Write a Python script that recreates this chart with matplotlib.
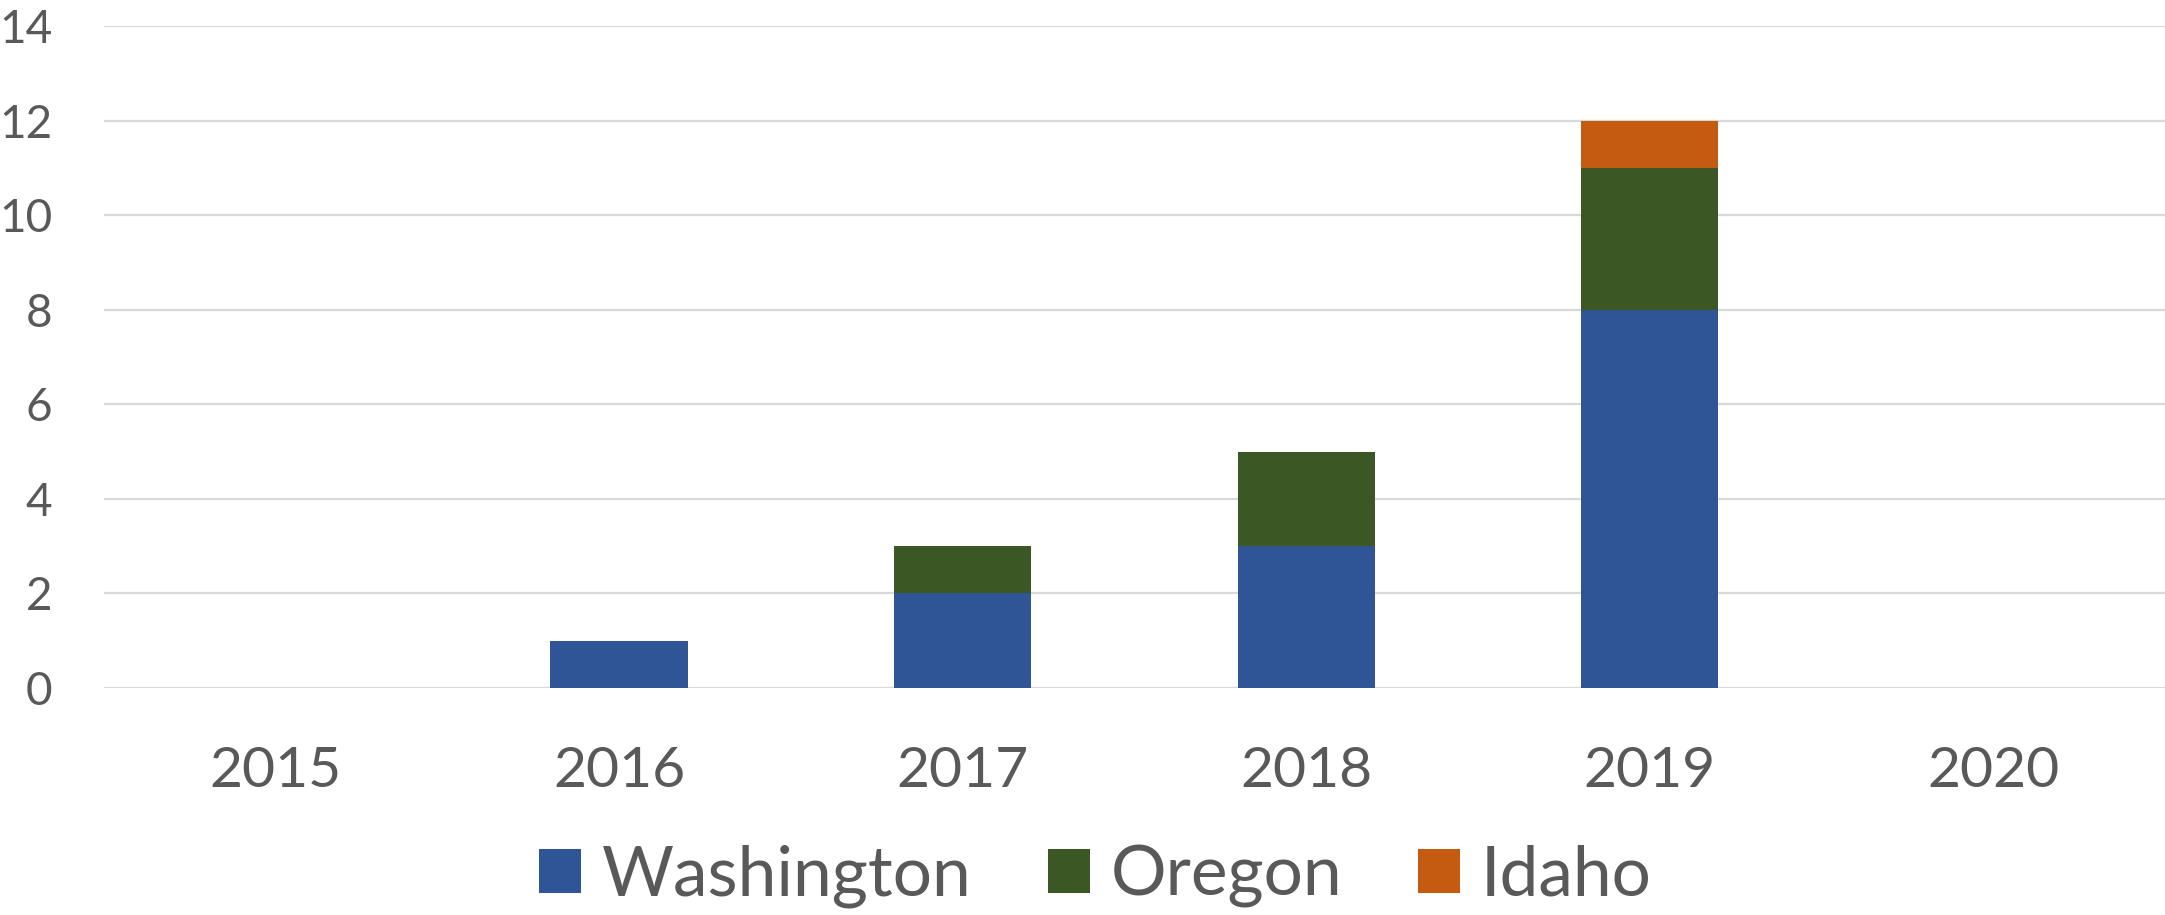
import matplotlib.pyplot as plt
import numpy as np

years = ['2015', '2016', '2017', '2018', '2019', '2020']
washington = [0, 1, 2, 3, 8, 0]
oregon = [0, 0, 1, 2, 3, 0]
idaho = [0, 0, 0, 0, 1, 0]

plt.rcParams['font.family'] = ['Lato', 'DejaVu Sans']
txt = '#595959'

fig = plt.figure(figsize=(21.65, 9.15), dpi=100)
ax = fig.add_axes([0.048, 0.248, 0.952, 0.7236])

x = np.arange(len(years))
w = 0.4
ax.bar(x, washington, w, color='#2F5597', label='Washington', zorder=3)
ax.bar(x, oregon, w, bottom=washington, color='#3A5724', label='Oregon', zorder=3)
bottom2 = [a + b for a, b in zip(washington, oregon)]
ax.bar(x, idaho, w, bottom=bottom2, color='#C55A11', label='Idaho', zorder=3)

ax.set_xlim(-0.5, len(years) - 0.5)
ax.set_ylim(0, 14)
ax.set_yticks(range(0, 15, 2))
ax.set_xticks(x)
ax.set_xticklabels(years)
ax.yaxis.grid(True, color='#D9D9D9', linewidth=1.6, zorder=0)
for s in ax.spines.values():
    s.set_visible(False)
ax.tick_params(axis='y', length=0, pad=37, labelsize=33, labelcolor=txt)
ax.tick_params(axis='x', length=0, pad=42, labelsize=41, labelcolor=txt)

leg = fig.legend(loc='center', bbox_to_anchor=(0.506, 0.042), ncol=3, frameon=False,
                 fontsize=50, handlelength=0.6, handleheight=0.6, handletextpad=0.3,
                 columnspacing=1.1)
for t in leg.get_texts():
    t.set_color(txt)

fig.savefig('out.png', dpi=100)
